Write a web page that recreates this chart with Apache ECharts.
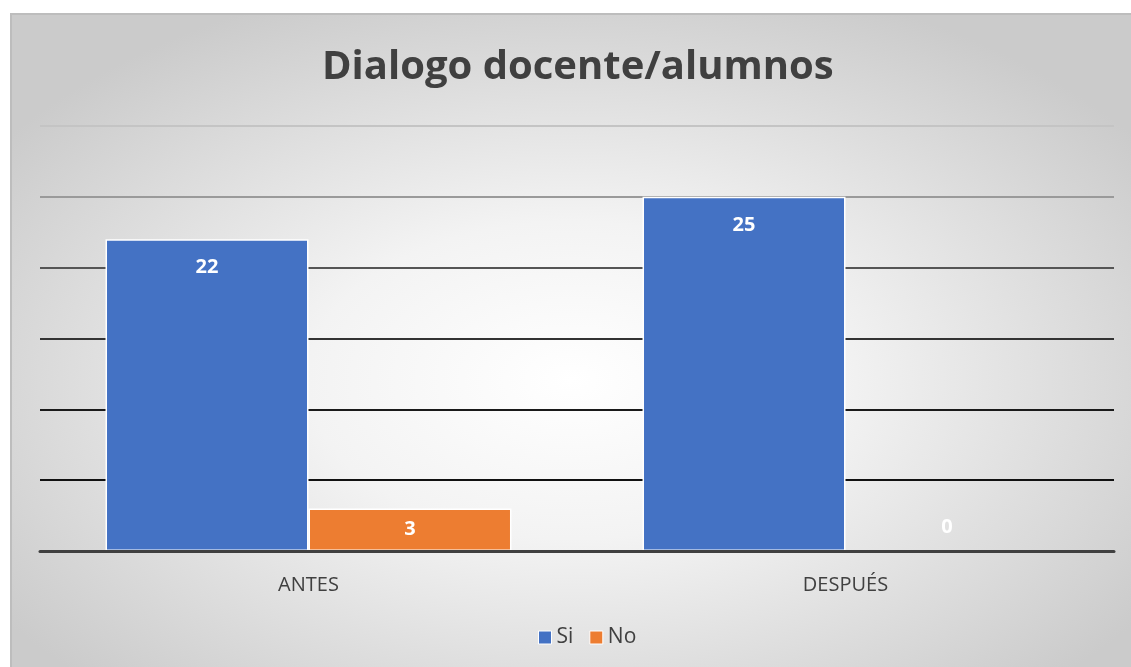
<!DOCTYPE html>
<html>
<head>
<meta charset="utf-8">
<script src="https://cdn.jsdelivr.net/npm/echarts@6/dist/echarts.min.js"></script>
<style>
    html, body { margin: 0; padding: 0; background: #fff; }
    #bg {
        position: absolute; left: 10px; top: 13px; width: 1121px; height: 654px;
        box-sizing: border-box;
        border-top: 2px solid #bdbdbd; border-left: 2px solid #bdbdbd;
        background: radial-gradient(ellipse 62% 64% at 50% 56%, #ffffff 0%, #f3f3f3 38%, #cbcbcb 100%);
    }
    #main { position: absolute; left: 0; top: 0; width: 1131px; height: 667px; }
</style>
</head>
<body>
<div id="bg"></div>
<div id="main"></div>
<script type="text/javascript">
    var categories = ['ANTES', 'DESPUÉS'];
    var siValues = [22, 25];
    var noValues = [3, 0];
    var seriesNames = ['Si', 'No'];

    // etiquetas como en Excel: barras pequeñas centradas, cero encima del eje
    function withLabels(values) {
        return values.map(function (v) {
            if (v === 0) {
                return { value: v, itemStyle: { borderWidth: 0 }, label: { position: 'top', distance: 14 } };
            }
            if (v < 5) {
                return { value: v, label: { position: 'inside' } };
            }
            return v;
        });
    }

    var myChart = echarts.init(document.getElementById('main'));

    var option = {
        backgroundColor: 'transparent',
        textStyle: { fontFamily: 'Open Sans' },
        title: {
            text: 'Dialogo docente/alumnos',
            left: 317,
            top: 43,
            textStyle: { fontSize: 40, fontWeight: 'bold', color: '#404040', fontFamily: 'Open Sans' }
        },
        legend: {
            data: seriesNames,
            bottom: 14,
            left: 533,
            itemWidth: 13,
            itemHeight: 13,
            itemGap: 16,
            icon: 'rect',
            itemStyle: { borderColor: '#fff', borderWidth: 1 },
            textStyle: { fontSize: 21, color: '#404040' }
        },
        grid: { left: 40, right: 17, top: 126, bottom: 116 },
        xAxis: {
            type: 'category',
            data: categories,
            z: 5,
            axisTick: { show: false },
            axisLine: { lineStyle: { color: '#404040', width: 3 } },
            axisLabel: { fontSize: 20, color: '#404040', margin: 24 }
        },
        yAxis: {
            type: 'value',
            min: 0,
            max: 30,
            interval: 5,
            axisLabel: { show: false },
            axisLine: { show: false },
            axisTick: { show: false },
            splitLine: {
                lineStyle: {
                    width: 2,
                    color: ['#404040', '#111111', '#1a1a1a', '#333333', '#555555', '#9a9a9a', '#c4c4c4']
                }
            }
        },
        series: [{
            name: seriesNames[0],
            type: 'bar',
            data: withLabels(siValues),
            barGap: '0%',
            barCategoryGap: '24.4%',
            itemStyle: { color: '#4472C4', borderColor: '#fff', borderWidth: 1.5 },
            label: { show: true, position: 'insideTop', distance: 18, color: '#fff', fontSize: 20, fontWeight: 'bold' }
        }, {
            name: seriesNames[1],
            type: 'bar',
            data: withLabels(noValues),
            itemStyle: { color: '#ED7D31', borderColor: '#fff', borderWidth: 1.5 },
            label: { show: true, position: 'insideTop', distance: 18, color: '#fff', fontSize: 20, fontWeight: 'bold' }
        }]
    };

    myChart.setOption(option);
</script>
</body>
</html>
